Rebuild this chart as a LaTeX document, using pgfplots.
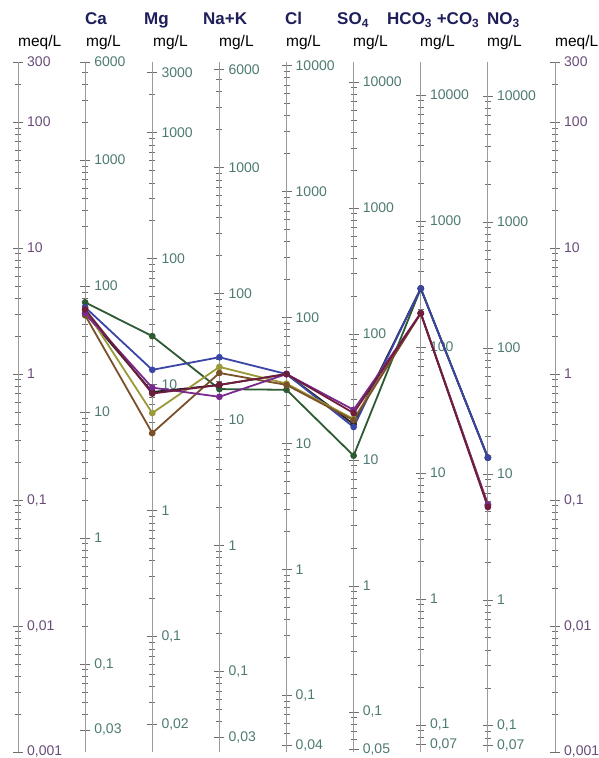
\documentclass[border=0pt]{standalone}
\usepackage{pgfplots}
\pgfplotsset{compat=1.18}
\usepackage{fontspec}
\setmainfont{Liberation Sans}
\definecolor{axgray}{HTML}{9A9A9A}
\definecolor{tkgray}{HTML}{6E6E6E}
\definecolor{mglab}{HTML}{4E7A72}
\definecolor{meqlab}{HTML}{6A4C78}
\definecolor{hdr}{HTML}{1E1E5A}
\definecolor{cgreen}{HTML}{2D5A32}
\definecolor{cblue}{HTML}{3A45A5}
\definecolor{cblack}{HTML}{222222}
\definecolor{cpurple}{HTML}{7A2A8E}
\definecolor{cmaroon}{HTML}{6E1E3C}
\definecolor{colive}{HTML}{9A9A3A}
\definecolor{cbrown}{HTML}{7A5028}
\pgfplotsset{
 myscale/.style={scale only axis, width=30pt, height=690pt, xmin=0, xmax=1,
   axis x line=none, axis y line=right,
   axis line style={-, draw=axgray, line width=0.9pt},
   tick align=center, major tick length=10pt, minor tick length=6pt,
   tick style={draw=tkgray, line width=0.7pt},
   yticklabel style={font=\fontsize{14}{14}\selectfont, text=mglab, anchor=west, inner sep=0pt, xshift=4pt},
   anchor=south east, clip=false},
 mymeq/.style={myscale, ymin=0.001, ymax=300, ytick={0.001,0.01,0.1,1,10,100,300},
   yticklabels={{0,001},{0,01},{0,1},1,10,100,300},
   minor ytick={0.002,0.003,0.004,0.005,0.006,0.007,0.008,0.009,
     0.02,0.03,0.04,0.05,0.06,0.07,0.08,0.09,
     0.2,0.3,0.4,0.5,0.6,0.7,0.8,0.9,
     2,3,4,5,6,7,8,9,20,30,40,50,60,70,80,90,200},
   yticklabel style={text=meqlab}},
 myser/.style={line width=1.8pt, mark=*, mark size=2.4pt, color=#1, mark options={fill=#1, draw=#1}},
}
\begin{document}
\begin{tikzpicture}
\useasboundingbox (0,0) rectangle (599pt,758pt);
% meq left
\begin{axis}[ymode=log, mymeq, at={(18pt,6pt)}]\end{axis}
% Ca
\begin{axis}[ymode=log, myscale, at={(85.1pt,6pt)}, ymin=0.02004, ymax=6012,
  ytick={0.03,0.1,1,10,100,1000,6000}, yticklabels={{0,03},{0,1},1,10,100,1000,6000},
  minor ytick={0.04,0.05,0.06,0.07,0.08,0.09,0.2,0.3,0.4,0.5,0.6,0.7,0.8,0.9,
     2,3,4,5,6,7,8,9,20,30,40,50,60,70,80,90,200,300,400,500,600,700,800,900,2000,3000,4000,5000}]\end{axis}
% Mg
\begin{axis}[ymode=log, myscale, at={(152.3pt,6pt)}, ymin=0.01215, ymax=3645,
  ytick={0.02,0.1,1,10,100,1000,3000}, yticklabels={{0,02},{0,1},1,10,100,1000,3000},
  minor ytick={0.03,0.04,0.05,0.06,0.07,0.08,0.09,0.2,0.3,0.4,0.5,0.6,0.7,0.8,0.9,
     2,3,4,5,6,7,8,9,20,30,40,50,60,70,80,90,200,300,400,500,600,700,800,900,2000}]\end{axis}
% Na+K
\begin{axis}[ymode=log, myscale, at={(219.4pt,6pt)}, ymin=0.023, ymax=6900,
  ytick={0.03,0.1,1,10,100,1000,6000}, yticklabels={{0,03},{0,1},1,10,100,1000,6000},
  minor ytick={0.04,0.05,0.06,0.07,0.08,0.09,0.2,0.3,0.4,0.5,0.6,0.7,0.8,0.9,
     2,3,4,5,6,7,8,9,20,30,40,50,60,70,80,90,200,300,400,500,600,700,800,900,2000,3000,4000,5000}]\end{axis}
% Cl
\begin{axis}[ymode=log, myscale, at={(286.5pt,6pt)}, ymin=0.03545, ymax=10635,
  ytick={0.04,0.1,1,10,100,1000,10000}, yticklabels={{0,04},{0,1},1,10,100,1000,10000},
  minor ytick={0.05,0.06,0.07,0.08,0.09,0.2,0.3,0.4,0.5,0.6,0.7,0.8,0.9,
     2,3,4,5,6,7,8,9,20,30,40,50,60,70,80,90,200,300,400,500,600,700,800,900,2000,3000,4000,5000,6000,7000,8000,9000}]\end{axis}
% SO4
\begin{axis}[ymode=log, myscale, at={(353.6pt,6pt)}, ymin=0.04803, ymax=14409,
  ytick={0.05,0.1,1,10,100,1000,10000}, yticklabels={{0,05},{0,1},1,10,100,1000,10000},
  minor ytick={0.06,0.07,0.08,0.09,0.2,0.3,0.4,0.5,0.6,0.7,0.8,0.9,
     2,3,4,5,6,7,8,9,20,30,40,50,60,70,80,90,200,300,400,500,600,700,800,900,2000,3000,4000,5000,6000,7000,8000,9000}]\end{axis}
% HCO3
\begin{axis}[ymode=log, myscale, at={(420.8pt,6pt)}, ymin=0.06102, ymax=18306,
  ytick={0.07,0.1,1,10,100,1000,10000}, yticklabels={{0,07},{0,1},1,10,100,1000,10000},
  minor ytick={0.08,0.09,0.2,0.3,0.4,0.5,0.6,0.7,0.8,0.9,
     2,3,4,5,6,7,8,9,20,30,40,50,60,70,80,90,200,300,400,500,600,700,800,900,2000,3000,4000,5000,6000,7000,8000,9000}]\end{axis}
% NO3
\begin{axis}[ymode=log, myscale, at={(487.9pt,6pt)}, ymin=0.062, ymax=18600,
  ytick={0.07,0.1,1,10,100,1000,10000}, yticklabels={{0,07},{0,1},1,10,100,1000,10000},
  minor ytick={0.08,0.09,0.2,0.3,0.4,0.5,0.6,0.7,0.8,0.9,
     2,3,4,5,6,7,8,9,20,30,40,50,60,70,80,90,200,300,400,500,600,700,800,900,2000,3000,4000,5000,6000,7000,8000,9000}]\end{axis}
% meq right
\begin{axis}[ymode=log, mymeq, at={(555pt,6pt)}]\end{axis}
% data
\begin{axis}[scale only axis, width=537pt, height=690pt, xmin=0, xmax=8, ymode=log,
  ymin=0.001, ymax=300, hide axis, clip=false, anchor=south west, at={(18pt,6pt)}]
\addplot[myser=cgreen] coordinates {(1,3.71)(2,2.0)(3,0.76)(4,0.75)(5,0.225)(6,4.78)(7,0.217)};
\addplot[myser=cblack] coordinates {(1,3.04)(2,0.72)(3,0.82)(4,1.0)(5,0.40)(6,4.78)(7,0.217)};
\addplot[myser=cblue] coordinates {(1,3.39)(2,1.08)(3,1.36)(4,1.0)(5,0.38)(6,4.78)(7,0.217)};
\addplot[myser=colive] coordinates {(1,3.26)(2,0.49)(3,1.14)(4,0.84)(5,0.44)(6,3.04)(7,0.092)};
\addplot[myser=cbrown] coordinates {(1,2.93)(2,0.34)(3,1.02)(4,0.82)(5,0.43)(6,3.04)(7,0.090)};
\addplot[myser=cpurple] coordinates {(1,3.04)(2,0.78)(3,0.66)(4,1.0)(5,0.52)(6,3.04)(7,0.092)};
\addplot[myser=cmaroon] coordinates {(1,3.26)(2,0.70)(3,0.82)(4,1.0)(5,0.49)(6,3.04)(7,0.088)};
\end{axis}
% headers
\begin{scope}[every node/.style={anchor=base west, inner sep=0pt, text=hdr, font=\fontsize{17}{17}\selectfont\bfseries}]
\node at (85pt,733pt) {Ca};
\node at (144pt,733pt) {Mg};
\node at (203pt,733pt) {Na+K};
\node at (285pt,733pt) {Cl};
\node at (337pt,733pt) {SO\textsubscript{4}};
\node at (387pt,733pt) {HCO\textsubscript{3} +CO\textsubscript{3}};
\node at (487pt,733pt) {NO\textsubscript{3}};
\end{scope}
\begin{scope}[every node/.style={anchor=base west, inner sep=0pt, text=black, font=\fontsize{15.5}{15.5}\selectfont}]
\node at (18pt,711pt) {meq/L};
\node at (86pt,711pt) {mg/L};
\node at (153pt,711pt) {mg/L};
\node at (219pt,711pt) {mg/L};
\node at (286pt,711pt) {mg/L};
\node at (353pt,711pt) {mg/L};
\node at (420pt,711pt) {mg/L};
\node at (487pt,711pt) {mg/L};
\node at (555pt,711pt) {meq/L};
\end{scope}
\end{tikzpicture}
\end{document}
